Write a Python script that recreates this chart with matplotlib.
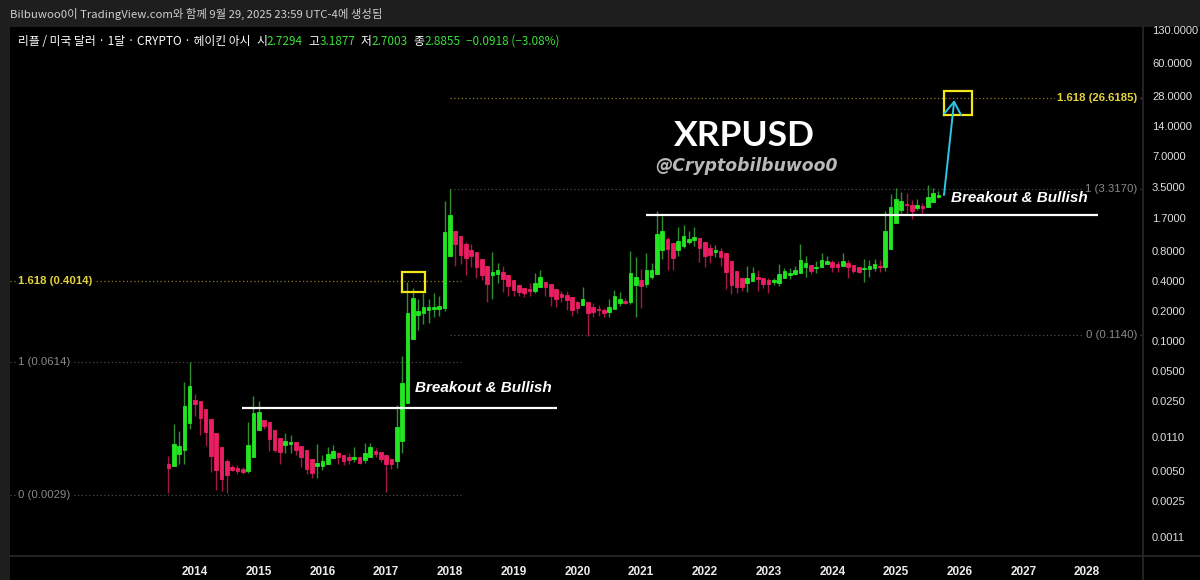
import matplotlib
matplotlib.use("Agg")
import matplotlib.pyplot as plt
from matplotlib.lines import Line2D
from matplotlib.patches import Rectangle

# ---------------- data (monthly Heikin Ashi candles, Aug 2013 .. Sep 2025) ----------------
first_year, first_month = 2013, 8
opens = [0.00589, 0.00562, 0.00741, 0.00813, 0.01514, 0.0257, 0.0251, 0.0209, 0.0166, 0.01202,
         0.00871, 0.00631, 0.00550, 0.00537, 0.00525, 0.00501, 0.00692, 0.01288, 0.01622, 0.01549,
         0.01288, 0.01072, 0.00912, 0.00933, 0.00977, 0.00891, 0.00813, 0.00661, 0.00562, 0.00562,
         0.00589, 0.00676, 0.00759, 0.00724, 0.00692, 0.00661, 0.00692, 0.00646, 0.00692, 0.00794,
         0.00776, 0.00724, 0.00661, 0.00631, 0.0100, 0.0240, 0.1047, 0.182, 0.1905, 0.204,
         0.209, 0.209, 0.214, 0.708, 1.259, 1.122, 0.933, 0.813, 0.776, 0.661,
         0.562, 0.457, 0.468, 0.490, 0.457, 0.407, 0.363, 0.339, 0.331, 0.316,
         0.347, 0.389, 0.372, 0.331, 0.295, 0.288, 0.275, 0.2455, 0.229, 0.2455,
         0.219, 0.209, 0.204, 0.195, 0.209, 0.240, 0.251, 0.2455, 0.363, 0.407,
         0.372, 0.437, 0.468, 0.813, 1.047, 0.955, 0.813, 0.891, 0.977, 1.023,
         1.072, 0.977, 0.851, 0.776, 0.794, 0.759, 0.631, 0.501, 0.427, 0.380,
         0.398, 0.437, 0.427, 0.407, 0.389, 0.380, 0.427, 0.457, 0.468, 0.479,
         0.550, 0.575, 0.537, 0.550, 0.589, 0.617, 0.589, 0.562, 0.603, 0.575,
         0.550, 0.525, 0.525, 0.537, 0.562, 0.550, 0.832, 1.514, 2.042, 2.344,
         2.291, 2.138, 2.239, 2.188, 2.455, 2.7294]
highs = [0.00708, 0.01479, 0.01259, 0.0389, 0.0617, 0.0295, 0.0251, 0.0209, 0.0166, 0.01202,
         0.00871, 0.00661, 0.00575, 0.00575, 0.00550, 0.01549, 0.0282, 0.0251, 0.01622, 0.01549,
         0.01288, 0.01072, 0.01202, 0.01148, 0.00977, 0.00891, 0.00813, 0.00661, 0.00933, 0.00724,
         0.00871, 0.00912, 0.00776, 0.00724, 0.00759, 0.00871, 0.00692, 0.00955, 0.00955, 0.00851,
         0.00776, 0.00724, 0.00661, 0.0229, 0.0708, 0.389, 0.339, 0.263, 0.302, 0.263,
         0.302, 0.282, 2.512, 3.311, 1.259, 1.122, 0.977, 0.933, 0.776, 0.661,
         0.562, 0.776, 0.603, 0.562, 0.457, 0.407, 0.363, 0.339, 0.380, 0.479,
         0.513, 0.389, 0.372, 0.331, 0.316, 0.316, 0.275, 0.251, 0.347, 0.2455,
         0.240, 0.229, 0.214, 0.263, 0.324, 0.309, 0.269, 0.794, 0.692, 0.525,
         0.759, 0.603, 1.995, 1.778, 1.096, 0.955, 1.380, 1.445, 1.259, 1.380,
         1.072, 0.977, 0.933, 0.912, 0.851, 0.759, 0.631, 0.501, 0.427, 0.562,
         0.550, 0.513, 0.427, 0.427, 0.427, 0.589, 0.537, 0.537, 0.562, 0.933,
         0.708, 0.575, 0.631, 0.759, 0.708, 0.646, 0.631, 0.759, 0.646, 0.575,
         0.550, 0.661, 0.646, 0.661, 0.646, 1.995, 2.951, 3.388, 3.090, 3.020,
         2.570, 2.630, 2.399, 3.631, 3.388, 3.1877]
lows = [0.00302, 0.00562, 0.00589, 0.00589, 0.01318, 0.01778, 0.01148, 0.00891, 0.00490, 0.00324,
        0.00316, 0.00302, 0.00501, 0.00468, 0.00468, 0.00479, 0.00692, 0.01288, 0.01318, 0.00794,
        0.00776, 0.00589, 0.00759, 0.00759, 0.00724, 0.00550, 0.00468, 0.00427, 0.00427, 0.00513,
        0.00589, 0.00676, 0.00589, 0.00575, 0.00589, 0.00617, 0.00589, 0.00603, 0.00692, 0.00692,
        0.00617, 0.00309, 0.00525, 0.00537, 0.00759, 0.0240, 0.1047, 0.1288, 0.1479, 0.1514,
        0.1738, 0.1778, 0.1995, 0.708, 0.562, 0.589, 0.457, 0.550, 0.427, 0.407,
        0.2455, 0.263, 0.380, 0.309, 0.282, 0.282, 0.282, 0.275, 0.282, 0.302,
        0.347, 0.282, 0.224, 0.219, 0.2455, 0.204, 0.1778, 0.1905, 0.229, 0.1122,
        0.1738, 0.1778, 0.1738, 0.1738, 0.209, 0.224, 0.234, 0.234, 0.1738, 0.214,
        0.347, 0.417, 0.468, 0.661, 0.513, 0.513, 0.708, 0.851, 0.933, 0.891,
        0.617, 0.550, 0.603, 0.692, 0.562, 0.331, 0.295, 0.302, 0.316, 0.309,
        0.398, 0.316, 0.339, 0.302, 0.363, 0.355, 0.427, 0.417, 0.457, 0.479,
        0.437, 0.468, 0.479, 0.550, 0.589, 0.490, 0.490, 0.562, 0.427, 0.479,
        0.479, 0.389, 0.437, 0.501, 0.490, 0.501, 0.832, 1.514, 1.905, 1.905,
        1.660, 2.042, 1.905, 2.188, 2.455, 2.7003]
closes = [0.00537, 0.00933, 0.00891, 0.0224, 0.0355, 0.0234, 0.0170, 0.0123, 0.00708, 0.00513,
          0.00417, 0.00457, 0.00513, 0.00501, 0.00490, 0.00912, 0.01905, 0.0195, 0.01413, 0.01047,
          0.00813, 0.00776, 0.01000, 0.00977, 0.00813, 0.00692, 0.00525, 0.00479, 0.00603, 0.00631,
          0.00741, 0.00794, 0.00692, 0.00631, 0.00646, 0.00692, 0.00603, 0.00759, 0.00871, 0.00741,
          0.00661, 0.00589, 0.00589, 0.0138, 0.0380, 0.1905, 0.269, 0.1995, 0.219, 0.219,
          0.219, 0.224, 1.230, 1.820, 0.933, 0.724, 0.676, 0.708, 0.550, 0.457,
          0.372, 0.490, 0.513, 0.417, 0.355, 0.324, 0.309, 0.302, 0.316, 0.380,
          0.437, 0.347, 0.282, 0.263, 0.275, 0.257, 0.204, 0.214, 0.263, 0.1905,
          0.195, 0.204, 0.1905, 0.219, 0.282, 0.263, 0.240, 0.479, 0.437, 0.355,
          0.513, 0.513, 1.175, 1.259, 0.832, 0.676, 1.000, 1.122, 1.047, 1.096,
          0.851, 0.708, 0.724, 0.813, 0.692, 0.490, 0.363, 0.347, 0.347, 0.427,
          0.479, 0.417, 0.372, 0.372, 0.407, 0.468, 0.501, 0.479, 0.513, 0.646,
          0.603, 0.501, 0.550, 0.646, 0.631, 0.550, 0.550, 0.631, 0.550, 0.501,
          0.490, 0.537, 0.562, 0.589, 0.550, 1.259, 2.188, 2.630, 2.512, 2.291,
          1.995, 2.291, 2.138, 2.754, 3.020, 2.8855]

year_labels = [2014, 2015, 2016, 2017, 2018, 2019, 2020, 2021, 2022, 2023, 2024, 2025, 2026, 2027, 2028]
price_ticks = [130, 60, 28, 14, 7, 3.5, 1.7, 0.8, 0.4, 0.2, 0.1, 0.05, 0.025, 0.011, 0.005, 0.0025, 0.0011]
fib_left_names = ["1.618", "1", "0"]
fib_left_prices = [0.4014, 0.0614, 0.0029]
fib_right_names = ["1.618", "1", "0"]
fib_right_prices = [26.6185, 3.3170, 0.1140]
breakout_left_price = 0.02155
breakout_right_price = 1.82
header_values = ["2.7294", "3.1877", "2.7003", "2.8855"]
header_change = "\u22120.0918 (\u22123.08%)"

# ---------------- styling ----------------
BG = "#000000"
FRAME = "#1e1e1e"
SEP = "#2a2a2a"
G_BODY, G_WICK = "#22e622", "#2f8f2f"
R_BODY, R_WICK = "#e91e63", "#a3174a"
YEL = "#e6d33a"
YEL_LINE = "#8c7d22"
GREY_TXT = "#8a8a8a"
GREY_LINE = "#4a4a4a"
CYAN = "#2ec6e6"
CJK = ["Noto Sans CJK KR", "DejaVu Sans"]

W, H = 1200, 580
fig = plt.figure(figsize=(W / 100, H / 100), dpi=100, facecolor=BG)

# frame (top bar and left strip)
fig.add_artist(Rectangle((0, 1 - 27 / H), 1, 27 / H, transform=fig.transFigure,
                         facecolor=FRAME, edgecolor="none", zorder=0))
fig.add_artist(Rectangle((0, 0), 10 / W, 1, transform=fig.transFigure,
                         facecolor=FRAME, edgecolor="none", zorder=0))

ax_left, ax_right, ax_top, ax_bot = 10, 1143, 27, 556
ax = fig.add_axes([ax_left / W, 1 - ax_bot / H, (ax_right - ax_left) / W, (ax_bot - ax_top) / H])
ax.set_facecolor(BG)
ax.set_yscale("log")

px_per_month = 5.31
def xi(px):
    return 5 + (px - 195) / px_per_month

ax.set_xlim(xi(ax_left), xi(ax_right))
ax.set_ylim(10 ** ((241 - ax_bot) / 100), 10 ** ((241 - ax_top) / 100))

# candles
n = len(opens)
xs = list(range(n))
for i in xs:
    o, h, l, c = opens[i], highs[i], lows[i], closes[i]
    up = c >= o
    ax.vlines(i, l, h, color=G_WICK if up else R_WICK, linewidth=1.0, zorder=3)
    lo, hi = min(o, c), max(o, c)
    ax.bar(i, hi - lo, bottom=lo, width=0.68, color=G_BODY if up else R_BODY,
           edgecolor=G_BODY if up else R_BODY, linewidth=0.6, zorder=4)

# fib levels left
for name, p, in zip(fib_left_names, fib_left_prices):
    col_line = YEL_LINE if name == "1.618" else GREY_LINE
    col_txt = YEL if name == "1.618" else GREY_TXT
    ax.plot([xi(10), xi(461)], [p, p], linestyle=(0, (1, 2)), color=col_line, linewidth=0.9, zorder=2)
    ax.text(xi(18), p, f"{name} ({p:.4f})", color=col_txt, fontsize=8.2,
            family="Liberation Sans", fontweight="bold" if name == "1.618" else "normal",
            ha="left", va="center", zorder=5,
            bbox=dict(facecolor=BG, edgecolor="none", pad=1.5))

# fib levels right
for name, p in zip(fib_right_names, fib_right_prices):
    col_line = YEL_LINE if name == "1.618" else GREY_LINE
    col_txt = YEL if name == "1.618" else GREY_TXT
    ax.plot([xi(450), xi(1143)], [p, p], linestyle=(0, (1, 2)), color=col_line, linewidth=0.9, zorder=2)
    ax.text(xi(1137), p, f"{name} ({p:.4f})", color=col_txt, fontsize=8.2,
            family="Liberation Sans", fontweight="bold" if name == "1.618" else "normal",
            ha="right", va="center", zorder=5,
            bbox=dict(facecolor=BG, edgecolor="none", pad=1.5))

# breakout lines
ax.plot([xi(242), xi(557)], [breakout_left_price] * 2, color="white", linewidth=1.6, zorder=5,
        solid_capstyle="butt")
ax.plot([xi(646), xi(1098)], [breakout_right_price] * 2, color="white", linewidth=1.6, zorder=5,
        solid_capstyle="butt")
bo_font = dict(family="Liberation Sans", fontsize=11, fontweight="bold", style="italic", color="white")
ax.text(xi(415), 10 ** ((241 - 388) / 100), "Breakout & Bullish", ha="left", va="center", zorder=6, **bo_font)
ax.text(xi(951), 10 ** ((241 - 198) / 100), "Breakout & Bullish", ha="left", va="center", zorder=6, **bo_font)

# yellow boxes
def box(px0, px1, py0, py1):
    x0, x1 = xi(px0), xi(px1)
    y0, y1 = 10 ** ((241 - py1) / 100), 10 ** ((241 - py0) / 100)
    ax.plot([x0, x1, x1, x0, x0], [y0, y0, y1, y1, y0], color="#f5e616", linewidth=1.6, zorder=7,
            solid_joinstyle="miter")
box(401.7, 425, 271.7, 291.7)
box(944, 971.7, 91, 115)

# cyan arrow
ax.annotate("", xy=(xi(954.3), 10 ** ((241 - 100) / 100)), xytext=(xi(944), 10 ** ((241 - 195) / 100)),
            arrowprops=dict(arrowstyle="->,head_length=0.9,head_width=0.6", color=CYAN, lw=1.4,
                            shrinkA=0, shrinkB=0), zorder=8)

# title texts
ax.text(xi(744.5), 10 ** ((241 - 146) / 100), "XRPUSD", ha="center", va="baseline", color="white",
        fontsize=25.5, fontweight="bold", family="Lato", zorder=6)
ax.text(xi(746), 10 ** ((241 - 171) / 100), "@Cryptobilbuwoo0", ha="center", va="baseline",
        color="#b8b8b8", fontsize=12.4, fontweight="bold", style="italic", family="DejaVu Sans", zorder=6)

# axes
for s in ax.spines.values():
    s.set_visible(False)
ax.yaxis.tick_right()
ax.set_yticks(price_ticks)
ax.set_yticklabels([f"{v:.4f}" for v in price_ticks])
ax.yaxis.set_minor_locator(matplotlib.ticker.NullLocator())
ax.tick_params(axis="y", which="both", length=0, pad=6.5, labelcolor="#e0e0e0", labelsize=8)
for t in ax.get_yticklabels():
    t.set_family("Liberation Sans")
year_pos = [(y - first_year) * 12 + (1 - first_month) for y in year_labels]
ax.set_xticks(year_pos)
ax.set_xticklabels([str(y) for y in year_labels])
ax.tick_params(axis="x", length=0, pad=7, labelcolor="#ececec", labelsize=8.5)
for t in ax.get_xticklabels():
    t.set_family("Liberation Sans")
    t.set_fontweight("bold")

# separators
fig.add_artist(Line2D([ax_right / W] * 2, [0, 1 - ax_top / H], transform=fig.transFigure, color=SEP, lw=1.2))
fig.add_artist(Line2D([ax_left / W, 1], [1 - ax_bot / H] * 2, transform=fig.transFigure, color=SEP, lw=1.2))

# header line 1
fig.text(10 / W, 1 - 14 / H, "Bilbuwoo0\uc774 TradingView.com\uc640 \ud568\uaed8 9\uc6d4 29, 2025 23:59 UTC-4\uc5d0 \uc0dd\uc131\ub428",
         color="#cfcfcf", fontsize=8.2, family=CJK, ha="left", va="center")

# header line 2 (multi-coloured)
GREEN_TXT = "#3be03b"
pieces = [("\ub9ac\ud50c / \ubbf8\uad6d \ub2ec\ub7ec \u00b7 1\ub2ec \u00b7 CRYPTO \u00b7 \ud5e4\uc774\ud0a8 \uc544\uc2dc", "white", 0),
          ("\uc2dc", "white", 4), (header_values[0], GREEN_TXT, 0),
          ("\uace0", "white", 4), (header_values[1], GREEN_TXT, 0),
          ("\uc800", "white", 4), (header_values[2], GREEN_TXT, 0),
          ("\uc885", "white", 4), (header_values[3], GREEN_TXT, 0),
          (header_change, GREEN_TXT, 4)]
prev = None
for s, col, gap in pieces:
    if prev is None:
        prev = fig.text(18 / W, 1 - 48 / H, s, color=col, fontsize=8.5, family=CJK, ha="left", va="bottom")
    else:
        prev = ax.annotate(s, xy=(1, 0), xycoords=prev, xytext=(gap, 0), textcoords="offset points",
                           color=col, fontsize=8.5, family=CJK, ha="left", va="bottom",
                           annotation_clip=False)

fig.savefig("out.png", dpi=100, facecolor=BG)
